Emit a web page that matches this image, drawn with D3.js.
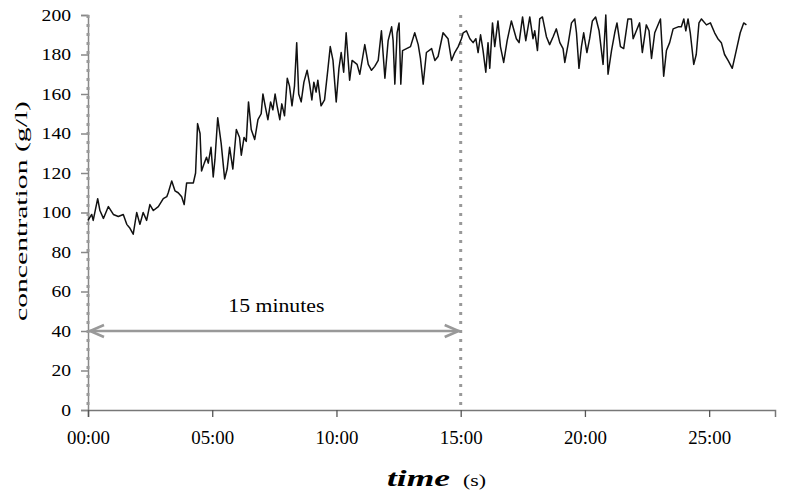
<!DOCTYPE html>
<html><head><meta charset="utf-8">
<script src="https://cdn.jsdelivr.net/npm/d3@7"></script>
<style>body{margin:0;background:#fff}</style>
</head><body><svg id="c" width="793" height="493"></svg>
<script>
const timeMin = [0,0.15,0.21,0.39,0.48,0.62,0.82,1.02,1.22,1.42,1.56,1.69,1.82,1.96,2.09,2.22,2.36,2.49,2.63,2.83,3.03,3.17,3.23,3.37,3.50,3.63,3.77,3.87,3.97,4.10,4.24,4.33,4.41,4.51,4.57,4.68,4.77,4.84,4.95,5.04,5.11,5.22,
5.36,5.50,5.60,5.70,5.83,5.97,6.10,6.17,6.28,6.37,6.46,6.57,6.71,6.84,6.97,7.04,7.13,7.24,7.35,7.44,7.53,7.61,7.72,7.80,7.91,8.02,8.11,8.21,8.31,8.40,8.48,8.58,8.69,8.82,8.92,9.01,9.09,9.18,9.25,9.38,9.52,9.65,9.75,9.86,9.99,10.10,10.19,10.29,10.39,10.53,10.63,
10.83,10.94,11.14,11.28,11.41,11.54,11.68,11.81,11.95,12.08,12.22,12.28,12.35,12.44,12.52,12.59,12.66,12.82,12.98,13.15,13.29,13.38,13.49,13.62,13.83,13.96,14.09,14.29,14.49,14.63,14.76,14.90,
15.03,15.10,15.23,15.37,15.50,15.61,15.70,15.80,15.90,16.01,16.10,16.17,16.28,16.37,16.50,16.60,16.73,16.87,17.04,17.24,17.35,17.49,17.62,17.78,17.91,17.98,18.09,18.18,18.29,18.45,18.58,18.72,18.85,18.99,19.12,19.19,19.32,19.46,19.59,19.66,19.76,19.86,19.95,20.08,20.19,20.30,20.43,20.57,
20.73,20.84,20.93,21.07,21.20,21.29,21.43,21.56,21.73,21.87,21.94,22.07,22.20,22.31,22.47,22.58,22.68,22.81,23.04,23.17,23.28,23.41,23.55,23.75,23.88,23.98,24.06,24.15,24.24,24.38,24.48,24.59,24.69,24.89,25.05,25.22,25.35,25.49,25.62,25.76,25.93,26.09,26.25,26.39,26.50];
const concentration = [96,99,96,107,101,97,103,99,98,99,94,92,89,100,94,100,96,104,101,103,107,108,110,116,111,110,108,104,115,115,115,120,145,140,121,125,128,125,133,118,127,148,
135,117,122,133,122,142,138,129,138,136,156,142,137,147,150,160,154,147,156,152,160,154,147,155,149,168,164,154,164,186,160,156,166,172,165,157,166,161,167,154,157,172,184,177,156,173,181,171,191,167,177,
175,170,185,175,172,174,177,192,168,187,194,187,165,191,196,165,182,183,184,191,185,178,165,181,183,177,179,191,188,177,181,184,
188,191,192,188,186,188,181,190,182,171,186,173,196,184,197,184,176,187,197,188,186,199,187,199,188,192,182,198,199,189,185,189,193,186,183,176,185,196,198,191,173,184,191,181,188,197,199,192,
175,200,170,182,191,196,184,183,198,198,188,192,196,181,195,192,178,191,198,169,182,186,193,194,194,198,192,198,191,175,180,196,198,195,196,191,188,186,180,177,173,182,191,196,195];
const yTicks = [0,20,40,60,80,100,120,140,160,180,200];
const xTicks = [0,5,10,15,20,25];
const xTickLabels = ["00:00","05:00","10:00","15:00","20:00","25:00"];
const markerTimes = [0,15];
const spanStart = 0, spanEnd = 15, spanLevel = 40;
const spanLabel = "15 minutes";
const yTitle = "concentration (g/l)";
const xTitle = "time", xUnit = "(s)";

const svg = d3.select("#c");
const serif = "'Liberation Serif','Times New Roman',serif";
const x = d3.scaleLinear().domain([0,27.65]).range([88,775]);
const y = d3.scaleLinear().domain([0,200]).range([410,15]);
const data = timeMin.map((t,i)=>({t, v:concentration[i]}));

// y axis
const yAx = svg.append("g").attr("transform",`translate(${x(0)},0)`)
  .call(d3.axisLeft(y).tickValues(yTicks).tickSize(7).tickPadding(10).tickFormat(d3.format("d")));
yAx.select(".domain").attr("stroke","#888").attr("stroke-width",1.5);
yAx.selectAll(".tick line").attr("stroke","#888").attr("stroke-width",1.5);
yAx.selectAll(".tick text").attr("font-family",serif).attr("font-size",17).attr("fill","#000")
  .attr("textLength",d=>String(d).length*9.8).attr("lengthAdjust","spacingAndGlyphs");

// x axis
const xAx = svg.append("g").attr("transform",`translate(0,${y(0)})`)
  .call(d3.axisBottom(x).tickValues(xTicks).tickSize(7).tickPadding(14).tickFormat((d,i)=>xTickLabels[i]));
xAx.select(".domain").attr("stroke","#777").attr("stroke-width",1.5);
xAx.selectAll(".tick line").attr("stroke","#555").attr("stroke-width",1.3);
xAx.selectAll(".tick text").attr("font-family",serif).attr("font-size",18).attr("fill","#000")
  .attr("textLength",43).attr("lengthAdjust","spacingAndGlyphs");

// dotted markers
svg.selectAll("line.marker").data(markerTimes).join("line").attr("class","marker")
  .attr("x1",d=>x(d)).attr("x2",d=>x(d)).attr("y1",y(200)).attr("y2",y(0))
  .attr("stroke","#999").attr("stroke-width",3).attr("stroke-dasharray","3,6");

// data line
svg.append("path").datum(data)
  .attr("d",d3.line().x(d=>x(d.t)).y(d=>y(d.v)))
  .attr("fill","none").attr("stroke","#111").attr("stroke-width",1.5).attr("stroke-linejoin","round");

// span arrow
const ay = y(spanLevel), ax0 = x(spanStart), ax1 = x(spanEnd);
const arrowG = svg.append("g").attr("stroke","#999").attr("stroke-width",2.5).attr("fill","none");
arrowG.append("line").attr("x1",ax0+1).attr("x2",ax1-1).attr("y1",ay).attr("y2",ay);
arrowG.append("path").attr("d",`M${ax0+16},${ay-6}L${ax0+2},${ay}L${ax0+16},${ay+6}`);
arrowG.append("path").attr("d",`M${ax1-16},${ay-6}L${ax1-2},${ay}L${ax1-16},${ay+6}`);
svg.append("text").attr("x",(ax0+ax1)/2+2).attr("y",ay-19).attr("text-anchor","middle")
  .attr("font-family",serif).attr("font-size",18).attr("fill","#000")
  .attr("textLength",96).attr("lengthAdjust","spacingAndGlyphs").text(spanLabel);

// y title
svg.append("text").attr("transform","translate(27,211) rotate(-90)").attr("text-anchor","middle")
  .attr("font-family",serif).attr("font-size",17).attr("fill","#000")
  .attr("textLength",220).attr("lengthAdjust","spacingAndGlyphs").text(yTitle);

// x title
svg.append("text").attr("x",387).attr("y",486).attr("font-family",serif).attr("font-size",24)
  .attr("font-weight","bold").attr("font-style","italic").attr("fill","#000")
  .attr("textLength",63).attr("lengthAdjust","spacingAndGlyphs").text(xTitle);
svg.append("text").attr("x",463).attr("y",486).attr("font-family",serif).attr("font-size",17)
  .attr("fill","#000").attr("textLength",23).attr("lengthAdjust","spacingAndGlyphs").text(xUnit);
</script></body></html>
